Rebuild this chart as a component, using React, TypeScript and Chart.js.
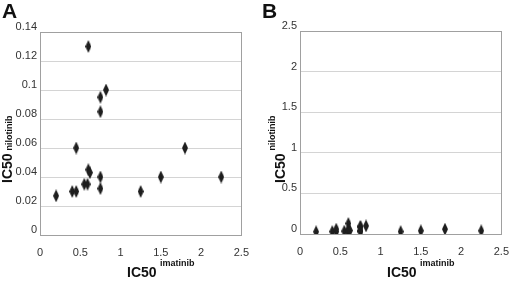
import React, { useEffect, useRef } from "react";
import { Chart, registerables } from "chart.js";
Chart.register(...registerables);

// Data
const imatinibIC50 = [0.2, 0.4, 0.45, 0.45, 0.55, 0.59, 0.6, 0.6, 0.62, 0.75, 0.75, 0.75, 0.75, 0.82, 1.25, 1.5, 1.8, 2.25];
const nilotinibIC50 = [0.027, 0.03, 0.03, 0.06, 0.035, 0.035, 0.13, 0.045, 0.043, 0.095, 0.085, 0.04, 0.032, 0.1, 0.03, 0.04, 0.06, 0.04];
const xTicks = [0, 0.5, 1, 1.5, 2, 2.5];
const yTicksA = [0, 0.02, 0.04, 0.06, 0.08, 0.1, 0.12, 0.14];
const yTicksB = [0, 0.5, 1, 1.5, 2, 2.5];
const panelLetters = ["A", "B"];
const xTitleParts = ["IC50", "imatinib"];
const yTitleParts = ["IC50", "nilotinib"];

const FONT = '"Liberation Sans", Arial, Helvetica, sans-serif';

function makeDiamond(): HTMLCanvasElement {
  const c = document.createElement("canvas");
  const w = 6, h = 13;
  c.width = w; c.height = h;
  const g = c.getContext("2d")!;
  g.fillStyle = "#1e1e1e";
  g.beginPath();
  g.moveTo(w / 2, 0);
  g.lineTo(w, h / 2);
  g.lineTo(w / 2, h);
  g.lineTo(0, h / 2);
  g.closePath();
  g.fill();
  return c;
}

const decorPlugin = {
  id: "decor",
  beforeDatasetsDraw(chart: any) {
    const { ctx, chartArea: a } = chart;
    ctx.save();
    ctx.strokeStyle = "#a0a0a0";
    ctx.lineWidth = 1;
    ctx.strokeRect(Math.round(a.left) + 0.5, Math.round(a.top) + 0.5, Math.round(a.right - a.left), Math.round(a.bottom - a.top));
    ctx.restore();
  },
  afterDraw(chart: any, _args: any, opts: any) {
    const ctx = chart.ctx;
    ctx.save();
    ctx.fillStyle = "#111";
    ctx.textAlign = "left";
    ctx.textBaseline = "alphabetic";
    // panel letter
    ctx.font = `bold 21px ${FONT}`;
    ctx.fillText(opts.letter, 2, 18);
    // x title
    ctx.font = `bold 14px ${FONT}`;
    ctx.fillText(xTitleParts[0], 127, 277);
    ctx.font = `bold 9px ${FONT}`;
    ctx.fillText(xTitleParts[1], 160, 266);
    // y title (rotated)
    ctx.save();
    ctx.translate(opts.yTitleX, 183);
    ctx.rotate(-Math.PI / 2);
    ctx.font = `bold 14px ${FONT}`;
    ctx.fillText(yTitleParts[0], 0, 0);
    const w = ctx.measureText(yTitleParts[0]).width;
    ctx.font = `bold 9px ${FONT}`;
    ctx.fillText(yTitleParts[1], w + 3, opts.subOffset);
    ctx.restore();
    ctx.restore();
  },
};

type PanelProps = {
  letter: string;
  yTicks: number[];
  padTop: number;
  padRight: number;
  xHeight: number;
  yTitleX: number;
  subOffset: number;
};

function Panel(p: PanelProps) {
  const ref = useRef<HTMLCanvasElement>(null);
  useEffect(() => {
    const diamond = makeDiamond();
    const points = imatinibIC50.map((x, i) => ({ x, y: nilotinibIC50[i] }));
    const chart = new Chart(ref.current!, {
      type: "scatter",
      data: {
        datasets: [
          {
            data: points,
            pointStyle: diamond as any,
            backgroundColor: "#1e1e1e",
            borderColor: "#1e1e1e",
          },
        ],
      },
      options: {
        animation: false,
        responsive: false,
        maintainAspectRatio: false,
        layout: { padding: { left: 0, top: p.padTop, right: p.padRight, bottom: 0 } },
        plugins: {
          legend: { display: false },
          tooltip: { enabled: false },
          decor: { letter: p.letter, yTitleX: p.yTitleX, subOffset: p.subOffset },
        } as any,
        scales: {
          x: {
            type: "linear",
            min: xTicks[0],
            max: xTicks[xTicks.length - 1],
            afterBuildTicks: (s: any) => { s.ticks = xTicks.map((v) => ({ value: v })); },
            afterFit: (s: any) => { s.height = p.xHeight; },
            grid: { display: false, drawTicks: false },
            border: { display: false },
            ticks: {
              color: "#333",
              font: { family: FONT, size: 11 },
              padding: 11,
              maxRotation: 0,
              callback: (v: any) => String(v),
            },
          },
          y: {
            type: "linear",
            min: p.yTicks[0],
            max: p.yTicks[p.yTicks.length - 1],
            afterBuildTicks: (s: any) => { s.ticks = p.yTicks.map((v) => ({ value: v })); },
            afterFit: (s: any) => { s.width = 40; },
            grid: { color: "#d4d4d4", drawTicks: false, lineWidth: 1 },
            border: { display: false },
            ticks: {
              color: "#333",
              font: { family: FONT, size: 11 },
              padding: 3,
              labelOffset: -5,
              callback: (v: any) => String(v),
            },
          },
        },
      },
      plugins: [decorPlugin],
    });
    return () => chart.destroy();
  }, []);
  return <canvas ref={ref} width={260} height={282} style={{ display: "block", width: 260, height: 282 }} />;
}

export default function App() {
  return (
    <div style={{ position: "fixed", left: 0, top: 0, width: 520, height: 282, background: "#fff", display: "flex" }}>
      <Panel letter={panelLetters[0]} yTicks={yTicksA} padTop={32} padRight={12} xHeight={47} yTitleX={12} subOffset={0} />
      <Panel letter={panelLetters[1]} yTicks={yTicksB} padTop={31} padRight={10} xHeight={48} yTitleX={25} subOffset={-10} />
    </div>
  );
}
